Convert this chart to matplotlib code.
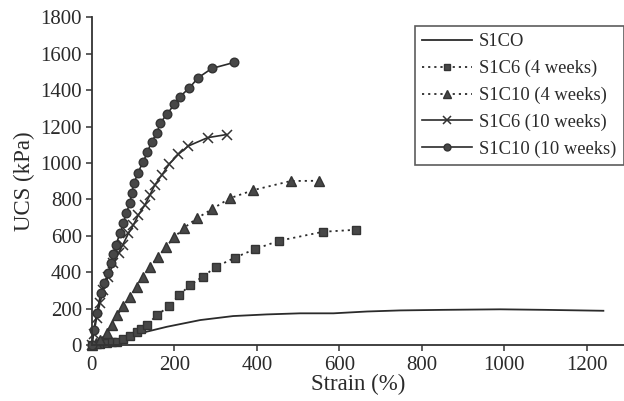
import matplotlib
matplotlib.use("Agg")
import matplotlib.pyplot as plt

plt.rcParams['font.family'] = ['Liberation Serif', 'DejaVu Serif']

# S1CO (solid line, no markers)
s1co_x = [0, 30, 60, 100, 133, 182, 263, 343, 424, 505, 586, 667, 748, 850, 990, 1100, 1240]
s1co_y = [0, 5, 20, 50, 73, 100, 137, 159, 168, 174, 174, 184, 190, 193, 196, 193, 188]

# S1C6 (4 weeks) - squares, dotted
c6_4_x = [0, 20, 36, 50, 61, 77, 93, 109, 120, 133, 159, 188, 212, 238, 269, 302, 347, 396, 455, 561, 641]
c6_4_y = [0, 3, 9, 14, 18, 31, 49, 73, 90, 110, 165, 214, 273, 329, 375, 430, 480, 527, 573, 622, 633]

# S1C10 (4 weeks) - triangles, dotted
c10_4_x = [0, 10, 20, 36, 48, 62, 77, 93, 109, 124, 141, 160, 180, 200, 224, 255, 292, 335, 392, 483, 552]
c10_4_y = [0, 10, 27, 64, 110, 165, 216, 265, 320, 375, 430, 481, 540, 591, 644, 696, 747, 806, 851, 901, 902]

# S1C6 (10 weeks) - x markers, solid
c6_10_x = [0, 5, 12, 20, 28, 40, 52, 65, 75, 89, 101, 113, 129, 141, 153, 170, 188, 210, 234, 281, 327]
c6_10_y = [0, 60, 150, 229, 302, 375, 449, 504, 549, 613, 659, 714, 769, 824, 879, 934, 994, 1047, 1093, 1139, 1156]

# S1C10 (10 weeks) - circles, solid
c10_10_x = [0, 5, 12, 22, 30, 40, 46, 52, 58, 69, 77, 83, 93, 97, 103, 112, 124, 135, 145, 158, 166, 183, 200, 214, 237, 258, 291, 345]
c10_10_y = [0, 80, 174, 284, 339, 394, 449, 500, 549, 613, 668, 723, 778, 836, 891, 946, 1003, 1058, 1117, 1163, 1221, 1268, 1323, 1364, 1413, 1468, 1519, 1552]

labels = ['S1CO', 'S1C6 (4 weeks)', 'S1C10 (4 weeks)', 'S1C6 (10 weeks)', 'S1C10 (10 weeks)']
xticks = [0, 200, 400, 600, 800, 1000, 1200]
yticks = [0, 200, 400, 600, 800, 1000, 1200, 1400, 1600, 1800]

fig = plt.figure(figsize=(6.24, 4.01), dpi=100)
ax = fig.add_axes([91.7 / 624, 56 / 401, 1 - 91.7 / 624, 327.7 / 401])

lc = '#2b2b2b'
mc = '#474747'
dotted = (0, (1.2, 2.2))

ax.plot(s1co_x, s1co_y, color=lc, lw=1.3, label=labels[0], clip_on=False)
ax.plot(c6_4_x, c6_4_y, color=lc, lw=1.3, ls=dotted, marker='s', ms=5.5,
        mfc=mc, mec='#333333', label=labels[1], clip_on=False)
ax.plot(c10_4_x, c10_4_y, color=lc, lw=1.3, ls=dotted, marker='^', ms=6.5,
        mfc=mc, mec='#333333', label=labels[2], clip_on=False)
ax.plot(c6_10_x, c6_10_y, color=lc, lw=1.2, marker='x', ms=6.5, mew=1.1,
        mec='#333333', label=labels[3], clip_on=False)
ax.plot(c10_10_x, c10_10_y, color=lc, lw=1.2, marker='o', ms=6.2,
        mfc=mc, mec='#333333', label=labels[4], clip_on=False)

ax.set_xlim(0, 1290)
ax.set_ylim(0, 1800)
ax.set_xticks(xticks)
ax.set_yticks(yticks)
ax.tick_params(axis='both', direction='out', length=4, width=1.1, colors='#333333',
               labelsize=15, labelcolor='#2a2a2a')
ax.tick_params(axis='y', pad=3)
ax.tick_params(axis='x', pad=4)
for s in ['top', 'right']:
    ax.spines[s].set_visible(False)
for s in ['left', 'bottom']:
    ax.spines[s].set_linewidth(1.3)
    ax.spines[s].set_color('#333333')

ax.set_xlabel('Strain (%)', fontsize=16.5, color='#2a2a2a', labelpad=-1)
ax.set_ylabel('UCS (kPa)', fontsize=16.5, color='#2a2a2a', labelpad=4)

leg = ax.legend(loc='upper right', bbox_to_anchor=(1.0, 0.974), fontsize=13.3,
                frameon=True, fancybox=False, edgecolor='#333333',
                handlelength=2.7, handletextpad=0.4, labelspacing=0.52,
                borderpad=0.4, borderaxespad=0, markerscale=0.8)
leg.get_frame().set_linewidth(1.2)
for t in leg.get_texts():
    t.set_color('#2a2a2a')

fig.savefig('out.png', dpi=100)
